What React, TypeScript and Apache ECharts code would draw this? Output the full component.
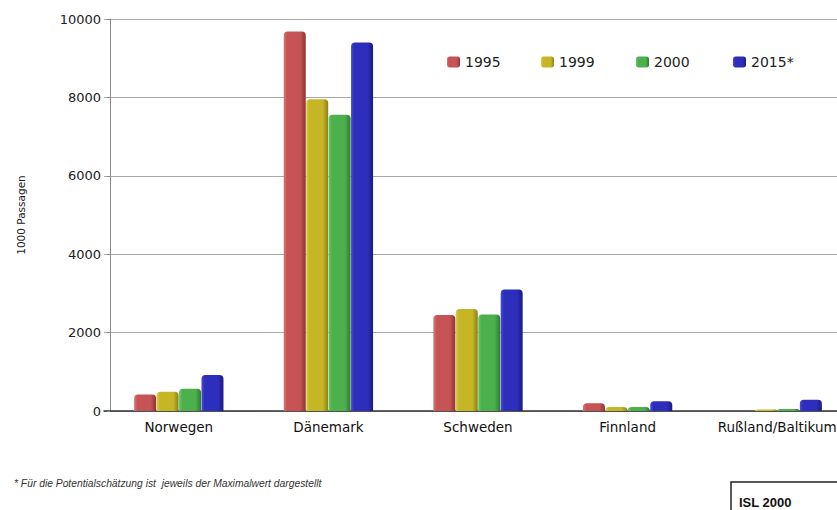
import React, { useEffect, useRef } from "react";
import * as echarts from "echarts";

const categories = ["Norwegen", "Dänemark", "Schweden", "Finnland", "Rußland/Baltikum"];
const seriesNames = ["1995", "1999", "2000", "2015*"];
const values1995 = [420, 9680, 2450, 200, 0];
const values1999 = [490, 7950, 2600, 100, 40];
const values2000 = [570, 7560, 2460, 100, 50];
const values2015 = [920, 9400, 3100, 250, 290];
const yTicks = [0, 2000, 4000, 6000, 8000, 10000];
const footnote = "* Für die Potentialschätzung ist  jeweils der Maximalwert dargestellt";
const sourceLabel = "ISL 2000";

const palette = [
  { base: "#c65454", light: "#d87474", dark: "#8e3434" },
  { base: "#c6b626", light: "#dccd48", dark: "#8c8016" },
  { base: "#4cb04c", light: "#6cc86c", dark: "#2e7a2e" },
  { base: "#2e2ebc", light: "#4a4ad6", dark: "#1a1a82" },
];

const shade = (c: { base: string; light: string; dark: string }) =>
  new echarts.graphic.LinearGradient(0, 0, 1, 0, [
    { offset: 0, color: c.light },
    { offset: 0.15, color: c.base },
    { offset: 0.75, color: c.base },
    { offset: 1, color: c.dark },
  ]);

export default function App() {
  const ref = useRef<HTMLDivElement>(null);

  useEffect(() => {
    if (!ref.current) return;
    const chart = echarts.init(ref.current, undefined, { renderer: "svg" });
    const allValues = [values1995, values1999, values2000, values2015];
    const legendLefts = [447, 541, 636, 733];
    const font = "DejaVu Sans, Verdana, sans-serif";
    const sans = "Liberation Sans, Arial, sans-serif";

    chart.setOption({
      animation: false,
      backgroundColor: "#ffffff",
      textStyle: { fontFamily: font },
      legend: seriesNames.map((name, i) => ({
        data: [name],
        left: legendLefts[i],
        top: 55,
        padding: 0,
        itemWidth: 13,
        itemHeight: 11,
        itemGap: 8,
        icon: "roundRect",
        textStyle: { fontSize: 14, color: "#222", fontFamily: font, padding: [5, 0, 0, 0] },
      })),
      // plot area runs past the right edge of the visible page
      grid: { left: 104, top: 19, width: 748, bottom: 99, containLabel: false },
      xAxis: {
        type: "category",
        data: categories,
        axisLine: { lineStyle: { color: "#333", width: 1.5 } },
        axisTick: { show: false },
        axisLabel: { interval: 0, fontSize: 13.5, color: "#111", margin: 9, fontFamily: font },
      },
      yAxis: {
        type: "value",
        min: yTicks[0],
        max: yTicks[yTicks.length - 1],
        interval: 2000,
        offset: -6,
        name: "1000 Passagen",
        nameLocation: "middle",
        nameGap: 84,
        nameTextStyle: { fontSize: 10.5, color: "#222", fontFamily: font },
        axisLine: { show: true, lineStyle: { color: "#888" } },
        axisTick: { show: true, length: 3, lineStyle: { color: "#888" } },
        axisLabel: {
          fontSize: 13,
          color: "#222",
          margin: 9,
          fontFamily: font,
          formatter: (v: number) => String(v),
        },
        splitLine: { lineStyle: { color: "#a8a8a8" } },
      },
      series: seriesNames.map((name, i) => ({
        name,
        type: "bar",
        data: allValues[i],
        barWidth: 22,
        barGap: "2%",
        itemStyle: {
          color: shade(palette[i]),
          borderRadius: [4, 4, 0, 0],
        },
      })),
      graphic: [
        {
          type: "text",
          left: 14,
          top: 478,
          style: {
            text: footnote,
            font: `italic 10.3px ${sans}`,
            fill: "#333",
          },
        },
        {
          type: "rect",
          shape: { x: 731, y: 482, width: 130, height: 40 },
          style: { fill: "#fff", stroke: "#222", lineWidth: 1.5 },
        },
        {
          type: "text",
          left: 739,
          top: 496,
          style: {
            text: sourceLabel,
            font: `bold 13px ${sans}`,
            fill: "#111",
          },
        },
      ],
    });

    return () => chart.dispose();
  }, []);

  return (
    <div
      style={{
        position: "fixed",
        left: 0,
        top: 0,
        width: 837,
        height: 510,
        overflow: "hidden",
      }}
    >
      <div ref={ref} style={{ width: 870, height: 510 }} />
    </div>
  );
}
